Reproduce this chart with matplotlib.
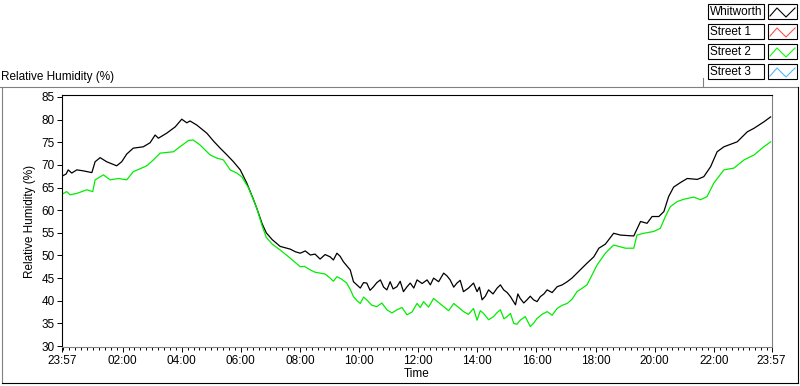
import matplotlib
matplotlib.use("Agg")
import matplotlib.pyplot as plt
from matplotlib.lines import Line2D
from matplotlib.patches import Rectangle

# ---- data (hours since 23:57, relative humidity %) ----
whit_t = [0.00, 0.14, 0.21, 0.33, 0.50, 0.71, 1.01, 1.12, 1.29, 1.51, 1.85, 2.02, 2.19, 2.41, 2.75,
          2.98, 3.15, 3.26, 3.54, 3.83, 4.05, 4.22, 4.33, 4.56, 4.90, 5.12, 5.35, 5.58, 5.80, 6.03,
          6.25, 6.48, 6.59, 6.77, 6.91, 7.11, 7.38, 7.72, 8.06, 8.40, 8.73, 9.07, 9.30, 9.52, 9.75,
          9.86, 10.09, 10.31, 10.54, 10.77, 10.99, 11.33, 11.55, 11.78, 12.01, 12.35, 12.57, 12.91,
          13.13, 13.36, 13.58, 13.92, 14.04, 14.21, 14.43, 14.72, 14.94, 15.17, 15.34, 15.50, 15.73,
          15.95, 16.18, 16.41, 16.75, 17.09, 17.42, 17.76, 17.99, 18.16, 18.38, 18.66, 18.89, 19.34,
          19.57, 19.79, 19.96, 20.19, 20.36, 20.52, 20.69, 20.92, 21.15, 21.49, 21.71, 21.94, 22.16,
          22.39, 22.84, 23.18, 23.41, 23.74, 23.97,
          7.90, 8.23, 8.56, 8.90, 9.18, 9.41, 10.20, 10.42, 10.65, 10.88, 11.10, 11.20, 11.44,
          11.66, 11.90, 12.18, 12.46, 12.74, 13.02, 13.25, 13.47, 13.75, 14.12, 14.32, 14.58,
          14.83, 15.06, 15.42, 15.62, 15.84, 16.07, 16.30, 16.58, 16.92, 17.25]
whit_v = [67.5, 68.0, 68.9, 68.2, 68.9, 68.7, 68.3, 70.7, 71.6, 70.7, 69.8, 70.7, 72.4, 73.7, 74.0,
          74.9, 76.6, 75.9, 77.0, 78.4, 80.1, 79.3, 79.7, 78.8, 77.0, 75.3, 73.7, 72.2, 70.7, 68.9,
          66.0, 62.3, 60.4, 57.0, 55.0, 53.5, 52.0, 51.4, 50.5, 50.1, 49.2, 49.7, 50.5, 48.6, 46.8,
          44.2, 42.8, 43.9, 43.1, 44.6, 42.4, 43.1, 42.0, 43.9, 44.6, 44.6, 45.0, 46.1,
          44.6, 43.9, 42.0, 43.9, 42.0, 40.2, 42.4, 42.8, 42.4, 40.9, 39.1, 40.5, 40.2,
          40.2, 40.9, 42.4, 43.1, 44.2, 46.1, 48.3, 49.7, 51.6, 52.5, 54.9, 54.5, 54.3,
          57.5, 57.1, 58.6, 58.6, 59.7, 63.0, 65.1, 66.1, 67.0, 66.8, 67.4, 69.6, 72.9,
          74.0, 75.1, 77.3, 78.1, 79.5, 80.6,
          50.8, 51.0, 50.3, 50.2, 49.0, 49.8, 44.0, 42.3, 44.0, 43.0, 44.2, 42.6, 44.3,
          43.0, 42.8, 43.8, 43.5, 44.2, 45.5, 43.0, 44.5, 42.8, 43.0, 41.0, 41.5,
          43.5, 41.8, 41.5, 39.5, 41.0, 39.8, 41.5, 41.8, 43.5, 45.0]

st2_t = [0.02, 0.16, 0.27, 0.50, 0.84, 1.04, 1.12, 1.40, 1.63, 1.91, 2.19, 2.41, 2.87, 3.09, 3.32,
         3.77, 3.99, 4.28, 4.44, 4.67, 5.01, 5.24, 5.46, 5.69, 5.91, 6.08, 6.31, 6.59, 6.77, 6.91,
         7.11, 7.38, 7.72, 8.06, 8.40, 8.73, 9.07, 9.30, 9.63, 9.86, 10.09, 10.31, 10.65, 10.99,
         11.33, 11.67, 12.01, 12.23, 12.57, 12.91, 13.25, 13.58, 13.92, 14.04, 14.26, 14.60, 14.83,
         15.06, 15.28, 15.50, 15.84, 16.07, 16.41, 16.75, 17.09, 17.42, 17.76, 18.10, 18.38, 18.66,
         19.06, 19.34, 19.45, 19.68, 20.02, 20.24, 20.41, 20.58, 20.81, 21.03, 21.37, 21.60, 21.82,
         22.05, 22.39, 22.73, 23.07, 23.41, 23.74, 23.97,
         8.20, 8.56, 8.90, 9.18, 9.45, 9.75, 9.98, 10.20, 10.48, 10.82, 11.16, 11.50, 11.84,
         12.12, 12.40, 12.74, 13.08, 13.42, 13.75, 14.15, 14.43, 14.72, 14.95, 15.17, 15.39,
         15.67, 15.95, 16.24, 16.58, 16.92, 17.25]
st2_v = [63.6, 64.1, 63.4, 63.7, 64.5, 64.1, 66.7, 67.8, 66.7, 67.0, 66.7, 68.5, 69.8, 71.1, 72.6,
         72.9, 74.0, 75.4, 75.5, 74.4, 72.2, 71.5, 71.1, 68.9, 68.2, 67.4, 64.9, 60.4, 56.5, 54.0,
         52.5, 51.2, 49.4, 47.5, 46.8, 46.1, 45.0, 45.3, 43.9, 40.9, 39.4, 40.2, 38.7, 38.0,
         38.0, 36.9, 39.4, 39.8, 40.5, 38.7, 39.4, 37.6, 38.3, 35.7, 37.2, 36.5, 38.0,
         36.5, 35.0, 35.7, 34.3, 36.1, 37.6, 38.3, 39.4, 42.0, 43.5, 47.9, 50.5, 52.3,
         51.6, 51.6, 54.5, 54.9, 55.3, 56.0, 58.6, 60.8, 61.9, 62.4, 62.9, 62.3, 63.0,
         66.0, 68.9, 69.3, 71.1, 72.2, 74.0, 75.1,
         47.6, 46.3, 45.9, 44.3, 44.8, 42.5, 40.0, 40.8, 39.0, 39.5, 37.3, 38.5, 37.5,
         38.5, 38.6, 39.6, 37.8, 38.5, 37.0, 37.8, 35.8, 37.4, 36.0, 37.2, 34.8,
         36.5, 35.0, 37.0, 36.8, 39.0, 40.3]

x_tick_pos = [0.0, 2.05, 4.05, 6.05, 8.05, 10.05, 12.05, 14.05, 16.05, 18.05, 20.05, 22.05, 24.0]
x_tick_labels = ["23:57", "02:00", "04:00", "06:00", "08:00", "10:00", "12:00", "14:00",
                 "16:00", "18:00", "20:00", "22:00", "23:57"]
y_ticks = [30, 35, 40, 45, 50, 55, 60, 65, 70, 75, 80, 85]
legend_names = ["Whitworth", "Street 1", "Street 2", "Street 3"]
legend_colors = ["#000000", "#ff5050", "#00ff00", "#50b8ff"]

W, H = 800, 386
plt.rcParams['font.family'] = ['Liberation Sans', 'DejaVu Sans']
fig = plt.figure(figsize=(W / 100, H / 100), dpi=100)
fig.patch.set_facecolor("white")

def fx(px):
    return px / W

def fy(py):
    return 1 - py / H

wt = sorted(zip(whit_t, whit_v))
st = sorted(zip(st2_t, st2_v))

ax = fig.add_axes([fx(62), fy(347), fx(771.5) - fx(62), fy(95) - fy(347)])
ax.plot([p[0] for p in wt], [p[1] for p in wt], color="#000000", lw=0.9)
ax.plot([p[0] for p in st], [p[1] for p in st], color="#00ee00", lw=0.9)
ax.set_xlim(0, 24)
ax.set_ylim(29.78, 85.44)

ax.set_xticks(x_tick_pos)
ax.set_xticklabels(x_tick_labels, fontsize=8.5)
minor = [0.05 + 0.2 * k for k in range(120) if 0.05 + 0.2 * k < 24]
ax.set_xticks(minor, minor=True)
ax.set_yticks(y_ticks)
ax.set_yticklabels([str(v) for v in y_ticks], fontsize=8.5)
ax.tick_params(axis='x', which='major', direction='out', length=3.5, width=0.7, pad=2, colors='black')
ax.tick_params(axis='x', which='minor', direction='out', length=2, width=0.7, color='black')
ax.tick_params(axis='y', which='major', direction='out', length=3.5, width=0.7, pad=1.5)
for s in ['left', 'top']:
    ax.spines[s].set_color('black')
    ax.spines[s].set_linewidth(0.8)
for s in ['right', 'bottom']:
    ax.spines[s].set_color('#808080')
    ax.spines[s].set_linewidth(0.8)

ax.set_xlabel("Time", fontsize=8.5, labelpad=1)
ax.set_ylabel("Relative Humidity (%)", fontsize=8.5, labelpad=4)

# top-left caption
fig.text(fx(1), fy(77), "Relative Humidity (%)", fontsize=8.5, ha='left', va='center')

# outer frame
fig.add_artist(Line2D([fx(0), fx(798)], [fy(87), fy(87)], color='#808080', lw=0.8))
fig.add_artist(Line2D([fx(2), fx(2)], [fy(87), fy(383)], color='#808080', lw=0.8))
fig.add_artist(Line2D([fx(2), fx(798)], [fy(383), fy(383)], color='black', lw=0.8))
fig.add_artist(Line2D([fx(798), fx(798)], [fy(87), fy(383)], color='black', lw=0.8))
fig.add_artist(Line2D([fx(703), fx(703)], [fy(78), fy(87)], color='#808080', lw=0.8))

# legend
for i, (name, col) in enumerate(zip(legend_names, legend_colors)):
    top = 4 + 20 * i
    bot = top + 15
    fig.add_artist(Rectangle((fx(708), fy(bot)), fx(764) - fx(708), fy(top) - fy(bot),
                             facecolor='white', edgecolor='black', lw=0.8))
    fig.add_artist(Rectangle((fx(768), fy(bot)), fx(797) - fx(768), fy(top) - fy(bot),
                             facecolor='white', edgecolor='black', lw=0.8))
    fig.text(fx(710), fy((top + bot) / 2 + 0.5), name, fontsize=8.5, ha='left', va='center')
    fig.add_artist(Line2D([fx(770), fx(777), fx(786), fx(795)],
                          [fy(bot - 3), fy(top + 4), fy(bot - 2), fy(top + 4)],
                          color=col, lw=0.8))

fig.savefig("out.png", dpi=100)
